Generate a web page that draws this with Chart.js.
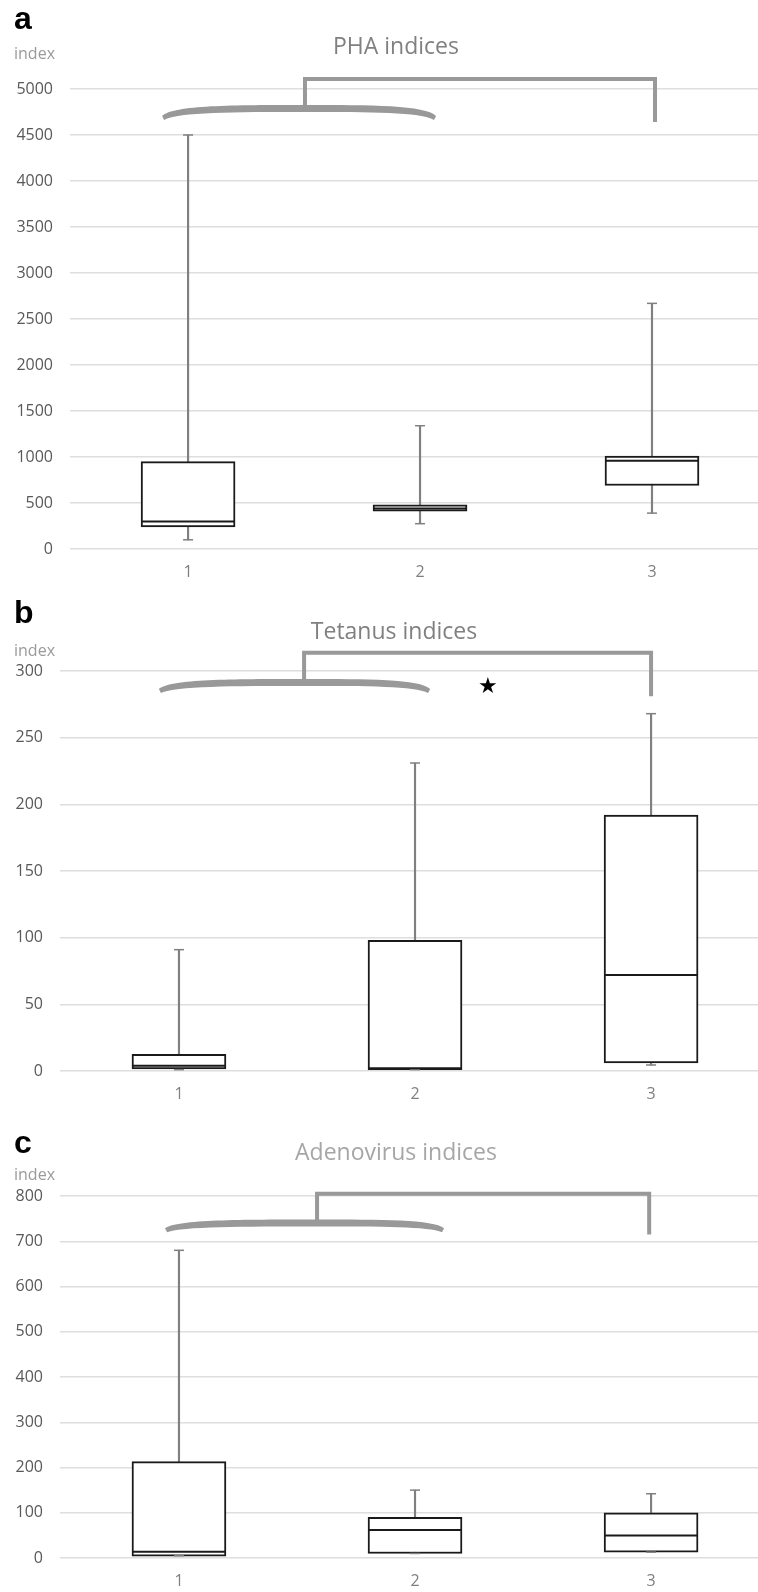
<!DOCTYPE html>
<html>
<head>
<meta charset="utf-8">
<script src="https://cdn.jsdelivr.net/npm/chart.js@4.4.0/dist/chart.umd.min.js"></script>
<style>
  html, body { margin: 0; padding: 0; background: #fff; }
  body { width: 758px; height: 1592px; position: relative; overflow: hidden; }
  canvas { position: absolute; left: 0; }
</style>
</head>
<body>
<canvas id="chartA" width="758" height="590" style="top:0px"></canvas>
<canvas id="chartB" width="758" height="510" style="top:590px"></canvas>
<canvas id="chartC" width="758" height="492" style="top:1100px"></canvas>
<script>
const CATEGORIES = ["1", "2", "3"]

// a: PHA indices
const PHA_MIN = [100, 275, 390]
const PHA_Q1 = [240, 410, 690]
const PHA_MEDIAN = [300, 440, 960]
const PHA_Q3 = [950, 480, 1010]
const PHA_MAX = [4500, 1340, 2670]
const PHA_TICKS = [0, 500, 1000, 1500, 2000, 2500, 3000, 3500, 4000, 4500, 5000]

// b: Tetanus indices
const TET_MIN = [1, 1, 4.5]
const TET_Q1 = [1.5, 1, 6]
const TET_MEDIAN = [4, 2, 72]
const TET_Q3 = [12.5, 98, 192]
const TET_MAX = [91, 231, 268]
const TET_TICKS = [0, 50, 100, 150, 200, 250, 300]

// c: Adenovirus indices
const ADV_MIN = [5, 10, 13]
const ADV_Q1 = [4, 10, 13]
const ADV_MEDIAN = [14, 62, 50]
const ADV_Q3 = [213, 90, 100]
const ADV_MAX = [680, 150, 142]
const ADV_TICKS = [0, 100, 200, 300, 400, 500, 600, 700, 800]

const WHISKER = "#808080"
const BOX_LINE = "#1a1a1a"
const BRACKET = "#999999"

function boxDatasets(mins, q1s, medians, q3s, maxs) {
  const xs = CATEGORIES.map((c, i) => i + 1)
  const caps = []
  xs.forEach((x, i) => {
    caps.push({ x: x, y: mins[i] })
    caps.push({ x: x, y: maxs[i] })
  })
  return [
    {
      type: "bar", label: "whisker",
      data: xs.map((x, i) => ({ x: x, y: [mins[i], maxs[i]] })),
      backgroundColor: WHISKER, borderWidth: 0,
      barThickness: 1.5, maxBarThickness: 1.5, grouped: false, order: 3,
    },
    {
      type: "bar", label: "box",
      data: xs.map((x, i) => ({ x: x, y: [q1s[i], q3s[i]] })),
      backgroundColor: "#ffffff", borderColor: BOX_LINE, borderWidth: 2, borderSkipped: false,
      barThickness: 94, maxBarThickness: 94, grouped: false, order: 2,
    },
    {
      type: "scatter", label: "median",
      data: xs.map((x, i) => ({ x: x, y: medians[i] })),
      pointStyle: "line", radius: 46, borderColor: BOX_LINE, borderWidth: 2, order: 1,
    },
    {
      type: "scatter", label: "caps",
      data: caps,
      pointStyle: "line", radius: 5, borderColor: WHISKER, borderWidth: 1.5, order: 1,
    },
  ]
}

function panelPlugin(p) {
  return {
    id: "panel" + p.letter,
    afterDraw(chart) {
      const ctx = chart.ctx
      const xs = chart.scales.x
      const ys = chart.scales.y
      ctx.save()

      // letter, axis name, title
      ctx.fillStyle = "#000"
      ctx.font = "bold 32px 'Liberation Sans'"
      ctx.textAlign = "left"
      ctx.textBaseline = "alphabetic"
      ctx.fillText(p.letter, 14, p.letterY)

      ctx.fillStyle = "#9a9a9a"
      ctx.font = "16px 'Open Sans'"
      ctx.textBaseline = "middle"
      ctx.fillText("index", 14, p.indexY)

      ctx.fillStyle = p.titleColor
      ctx.font = "23px 'Open Sans'"
      ctx.textAlign = "center"
      ctx.fillText(p.title, p.titleX, p.titleY)

      // brace over groups 1 and 2
      const b = p.brace
      const x0 = xs.getPixelForValue(b.from)
      const x1 = xs.getPixelForValue(b.to)
      const xm = xs.getPixelForValue(b.peak)
      const top = ys.getPixelForValue(b.top)
      const tip = ys.getPixelForValue(b.tip)
      const L = xm - x0
      const R = x1 - xm
      ctx.fillStyle = BRACKET
      ctx.beginPath()
      ctx.moveTo(x0, tip - 4)
      ctx.bezierCurveTo(x0 + 0.08 * L, top, xm - 0.5 * L, top, xm, top)
      ctx.bezierCurveTo(xm + 0.5 * R, top, x1 - 0.08 * R, top, x1, tip - 4)
      ctx.lineTo(x1 - 2, tip)
      ctx.bezierCurveTo(x1 - 0.12 * R, top + 7, xm + 0.5 * R, top + 7, xm, top + 7)
      ctx.bezierCurveTo(xm - 0.5 * L, top + 7, x0 + 0.12 * L, top + 7, x0 + 2, tip)
      ctx.closePath()
      ctx.fill()

      // bracket to group 3
      const k = p.bracket
      ctx.strokeStyle = BRACKET
      ctx.lineWidth = 4
      ctx.lineJoin = "miter"
      ctx.beginPath()
      ctx.moveTo(xs.getPixelForValue(k.x), top + 2)
      ctx.lineTo(xs.getPixelForValue(k.x), ys.getPixelForValue(k.top))
      ctx.lineTo(xs.getPixelForValue(k.right), ys.getPixelForValue(k.top))
      ctx.lineTo(xs.getPixelForValue(k.right), ys.getPixelForValue(k.bottom))
      ctx.stroke()

      if (p.star) {
        ctx.fillStyle = "#000"
        ctx.font = "22px 'DejaVu Sans'"
        ctx.textAlign = "center"
        ctx.textBaseline = "middle"
        ctx.fillText("\u2605", xs.getPixelForValue(p.star.x), ys.getPixelForValue(p.star.y))
      }
      ctx.restore()
    },
  }
}

function makeChart(p) {
  const canvas = document.getElementById(p.id)
  return new Chart(canvas, {
    type: "bar",
    data: { datasets: boxDatasets(p.mins, p.q1s, p.medians, p.q3s, p.maxs) },
    options: {
      responsive: false,
      animation: false,
      events: [],
      layout: { autoPadding: false, padding: { top: p.top, left: 0, right: 0, bottom: 0 } },
      plugins: { legend: { display: false }, tooltip: { enabled: false } },
      scales: {
        x: {
          type: "linear",
          min: p.xMin,
          max: p.xMax,
          offset: false,
          grid: { display: false, drawTicks: false, offset: false },
          border: { display: false },
          afterBuildTicks: (scale) => { scale.ticks = CATEGORIES.map((c, i) => ({ value: i + 1 })) },
          afterFit: (scale) => { scale.height = p.height - p.bottom },
          ticks: {
            padding: 14,
            color: "#7f7f7f",
            font: { family: "'Open Sans'", size: 16 },
            callback: (v) => CATEGORIES[Math.round(v) - 1],
          },
        },
        y: {
          min: 0,
          max: p.ticks[p.ticks.length - 1],
          grid: { color: "#dedede", lineWidth: 1.5, drawTicks: false },
          border: { display: false },
          afterBuildTicks: (scale) => { scale.ticks = p.ticks.map((v) => ({ value: v })) },
          afterFit: (scale) => { scale.width = p.left },
          ticks: {
            padding: 17,
            color: "#595959",
            font: { family: "'Open Sans'", size: 16 },
            callback: (v) => String(v),
          },
        },
      },
    },
    plugins: [panelPlugin(p)],
  })
}

makeChart({
  id: "chartA", letter: "a", title: "PHA indices", titleColor: "#808080",
  mins: PHA_MIN, q1s: PHA_Q1, medians: PHA_MEDIAN, q3s: PHA_Q3, maxs: PHA_MAX, ticks: PHA_TICKS,
  height: 590, top: 89, bottom: 549, left: 70, xMin: 0.491, xMax: 3.457,
  letterY: 29, indexY: 54, titleX: 396, titleY: 47,
  brace: { from: 0.888, to: 2.069, peak: 1.504, top: 4826, tip: 4663 },
  bracket: { x: 1.504, top: 5109, right: 3.013, bottom: 4641 },
})

makeChart({
  id: "chartB", letter: "b", title: "Tetanus indices", titleColor: "#808080",
  mins: TET_MIN, q1s: TET_Q1, medians: TET_MEDIAN, q3s: TET_Q3, maxs: TET_MAX, ticks: TET_TICKS,
  height: 510, top: 81, bottom: 481, left: 60, xMin: 0.496, xMax: 3.453,
  letterY: 33, indexY: 61, titleX: 394, titleY: 42,
  brace: { from: 0.915, to: 2.064, peak: 1.53, top: 294, tip: 283.5 },
  bracket: { x: 1.53, top: 313.6, right: 3.0, bottom: 281 },
  star: { x: 2.309, y: 288 },
})

makeChart({
  id: "chartC", letter: "c", title: "Adenovirus indices", titleColor: "#a6a6a6",
  mins: ADV_MIN, q1s: ADV_Q1, medians: ADV_MEDIAN, q3s: ADV_Q3, maxs: ADV_MAX, ticks: ADV_TICKS,
  height: 492, top: 96, bottom: 458, left: 60, xMin: 0.496, xMax: 3.453,
  letterY: 53, indexY: 75, titleX: 396, titleY: 53,
  brace: { from: 0.941, to: 2.123, peak: 1.585, top: 748, tip: 720 },
  bracket: { x: 1.585, top: 805, right: 2.992, bottom: 715 },
})
</script>
</body>
</html>
